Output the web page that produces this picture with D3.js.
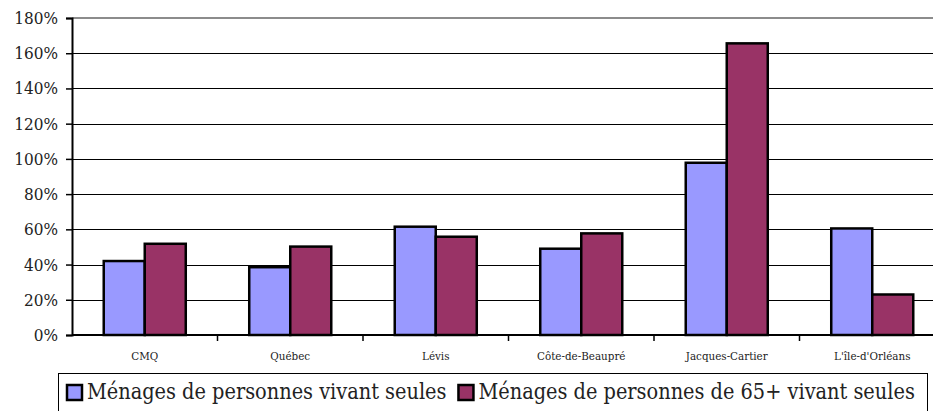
<!DOCTYPE html>
<html>
<head>
<meta charset="utf-8">
<script src="https://cdn.jsdelivr.net/npm/d3@7"></script>
<style>
  html, body { margin: 0; padding: 0; background: #fff; overflow: hidden; }
  svg { display: block; }
</style>
</head>
<body>
<svg id="chart" width="933" height="411"></svg>
<script>
const categories = ["CMQ", "Québec", "Lévis", "Côte-de-Beaupré", "Jacques-Cartier", "L'île-d'Orléans"];
const series_names = ["Ménages de personnes vivant seules", "Ménages de personnes de 65+ vivant seules"];
const alone_values = [0.42, 0.385, 0.615, 0.49, 0.978, 0.605];
const alone_65_values = [0.518, 0.502, 0.558, 0.577, 1.656, 0.23];
const y_ticks = [0, 0.2, 0.4, 0.6, 0.8, 1.0, 1.2, 1.4, 1.6, 1.8];
const colors = ["#9999ff", "#993366"];

const font = "DejaVu Serif Condensed, DejaVu Serif";

const svg = d3.select("#chart");

const plot = { left: 72, right: 945, top: 18, bottom: 335 };

let x = d3.scaleBand()
    .domain(categories)
    .range([plot.left, plot.right]);

let x_inner = d3.scaleBand()
    .domain([0, 1])
    .range([0, x.bandwidth()])
    .paddingOuter(0.774);

let y = d3.scaleLinear()
    .domain([0, 1.8])
    .range([plot.bottom, plot.top]);

// gridlines
svg.append("g")
    .selectAll("line")
    .data(y_ticks.filter(t => t > 0 && t < 1.8))
    .join("line")
    .attr("x1", plot.left)
    .attr("x2", plot.right)
    .attr("y1", d => Math.round(y(d)) + 0.5)
    .attr("y2", d => Math.round(y(d)) + 0.5)
    .attr("stroke", "#000")
    .attr("stroke-width", 1);

// top border of the plot area
svg.append("line")
    .attr("x1", plot.left)
    .attr("x2", plot.right)
    .attr("y1", y(1.8))
    .attr("y2", y(1.8))
    .attr("stroke", "#8c8c8c")
    .attr("stroke-width", 2);

// bars
let groups = svg.append("g")
    .selectAll("g")
    .data(categories.map((c, i) => ({ name: c, values: [alone_values[i], alone_65_values[i]] })))
    .join("g")
    .attr("transform", d => `translate(${x(d.name)},0)`);

groups.selectAll("rect")
    .data(d => d.values)
    .join("rect")
    .attr("x", (_, i) => x_inner(i))
    .attr("width", x_inner.bandwidth())
    .attr("y", d => y(d))
    .attr("height", d => y(0) - y(d))
    .attr("fill", (_, i) => colors[i])
    .attr("stroke", "#000")
    .attr("stroke-width", 2.5);

// y axis
let y_axis = svg.append("g")
    .attr("transform", `translate(${plot.left},0)`)
    .call(d3.axisLeft(y)
        .tickValues(y_ticks)
        .tickFormat(d3.format(".0%"))
        .tickSize(6)
        .tickPadding(8));

y_axis.select(".domain")
    .attr("stroke-width", 2);
y_axis.selectAll(".tick line")
    .attr("stroke-width", 1.5);
y_axis.selectAll("text")
    .attr("font-family", font)
    .attr("font-size", 17)
    .attr("fill", "#222");

// x axis
let x_axis = svg.append("g")
    .attr("transform", `translate(0,${plot.bottom})`)
    .call(d3.axisBottom(x).tickSize(0).tickPadding(17));

x_axis.select(".domain")
    .attr("d", `M${plot.left},0H${plot.right}`)
    .attr("stroke-width", 2);
x_axis.selectAll("text")
    .attr("font-family", font)
    .attr("font-size", 11.5)
    .attr("fill", "#222");

x_axis.append("g")
    .selectAll("line")
    .data(categories.slice(1))
    .join("line")
    .attr("x1", d => x(d))
    .attr("x2", d => x(d))
    .attr("y1", 0)
    .attr("y2", 6)
    .attr("stroke", "#000")
    .attr("stroke-width", 1.5);

// legend
let legend = svg.append("g");

legend.append("rect")
    .attr("x", 58.5)
    .attr("y", 373.5)
    .attr("width", 869)
    .attr("height", 50)
    .attr("fill", "#fff")
    .attr("stroke", "#000")
    .attr("stroke-width", 1);

let legend_x = 67;
series_names.forEach((name, i) => {
    legend.append("rect")
        .attr("x", legend_x)
        .attr("y", 385)
        .attr("width", 15)
        .attr("height", 15)
        .attr("fill", colors[i])
        .attr("stroke", "#000")
        .attr("stroke-width", 2.5);

    let label = legend.append("text")
        .attr("x", legend_x + 20)
        .attr("y", 399)
        .attr("font-family", font)
        .attr("font-size", 21.5)
        .attr("fill", "#222")
        .text(name);

    legend_x += 20 + label.node().getComputedTextLength() + 12;
});
</script>
</body>
</html>
